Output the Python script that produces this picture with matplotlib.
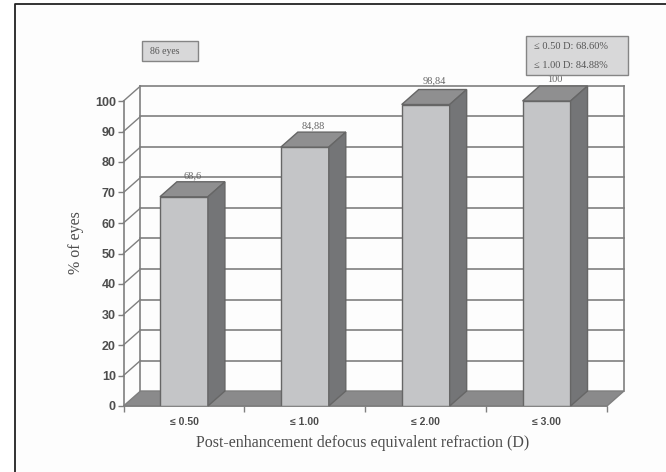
import matplotlib
matplotlib.use('Agg')
import matplotlib.pyplot as plt
from matplotlib.patches import Polygon, Rectangle

categories = ['≤ 0.50', '≤ 1.00', '≤ 2.00', '≤ 3.00']
values = [68.6, 84.88, 98.84, 100]
value_labels = ['68,6', '84,88', '98,84', '100']
y_ticks = list(range(0, 101, 10))

W, H = 666, 472
LEFT, RIGHT, BOTTOM, TOP = 123.5, 607, 406, 101
DX = 17 / 121      # depth of the 3d effect in category units
DY = 15 / 3.05     # depth in percent units
BAR_W = 0.397

LINE = '#7f7f7f'
EDGE = '#666666'
TEXT = '#4d4d4d'
FRONT = '#c4c5c7'
TOP_C = '#8f8f90'
SIDE = '#747577'
FLOOR = '#8a8a8b'

fig = plt.figure(figsize=(W / 100, H / 100), dpi=100, facecolor='white')

# page frame, only the top and left lines are in the crop
fig.add_artist(plt.Line2D([15 / W, 15 / W, 1], [0, 1 - 4 / H, 1 - 4 / H], color='#222222', lw=1.3))
fig.add_artist(Rectangle((15 / W, 0), 1 - 15 / W, 1 - 4 / H, transform=fig.transFigure,
                         facecolor='#fdfdfd', edgecolor='none', zorder=-5))

ax = fig.add_axes([LEFT / W, 1 - BOTTOM / H, (RIGHT - LEFT) / W, (BOTTOM - TOP) / H])
ax.patch.set_alpha(0)
n = len(categories)
ax.set_xlim(0, n)
ax.set_ylim(0, 100)

# floor
ax.add_patch(Polygon([(0, 0), (n, 0), (n + DX, DY), (DX, DY)], closed=True,
                     facecolor=FLOOR, edgecolor=LINE, lw=1, clip_on=False, zorder=1))

# walls and gridlines
for t in y_ticks:
    if t > 0:
        ax.plot([DX, n + DX], [t + DY, t + DY], color=LINE, lw=1.2, clip_on=False, zorder=1)
        ax.plot([0, DX], [t, t + DY], color=LINE, lw=1, clip_on=False, zorder=1)
ax.plot([DX, DX], [DY, 100 + DY], color=LINE, lw=1.2, clip_on=False, zorder=1)
ax.plot([n + DX, n + DX], [DY, 100 + DY], color=LINE, lw=1.2, clip_on=False, zorder=1)

# bars
centers = [i + 0.5 for i in range(n)]
label_gaps = [2.0, 2.0, 3.0, 2.0]
ax.bar(centers, values, width=BAR_W, color=FRONT, edgecolor=EDGE, linewidth=1, zorder=3)
for c, v, lab, gap in zip(centers, values, value_labels, label_gaps):
    x0, x1 = c - BAR_W / 2, c + BAR_W / 2
    ax.add_patch(Polygon([(x0, v), (x1, v), (x1 + DX, v + DY), (x0 + DX, v + DY)], closed=True,
                         facecolor=TOP_C, edgecolor=EDGE, lw=1, clip_on=False, zorder=3))
    ax.add_patch(Polygon([(x1, 0), (x1 + DX, DY), (x1 + DX, v + DY), (x1, v)], closed=True,
                         facecolor=SIDE, edgecolor=EDGE, lw=1, clip_on=False, zorder=3))
    ax.text(c + DX / 2, v + DY + gap, lab, ha='center', va='center', fontsize=7.5,
            family='Liberation Serif', color='#666666', zorder=4, clip_on=False)

# axes
for s in ['top', 'right']:
    ax.spines[s].set_visible(False)
for s in ['left', 'bottom']:
    ax.spines[s].set_color(LINE)
    ax.spines[s].set_linewidth(1.2)
    ax.spines[s].set_zorder(2)
ax.set_yticks(y_ticks)
ax.set_xticks(range(n + 1))
ax.set_xticklabels([])
ax.set_xticks(centers, minor=True)
ax.set_xticklabels(categories, minor=True, fontsize=7.5, fontweight='bold',
                   family='Liberation Sans', color=TEXT)
ax.tick_params(axis='x', which='minor', length=0, pad=8)
ax.tick_params(axis='x', which='major', length=4, color=LINE, width=1)
ax.tick_params(axis='y', length=4, color=LINE, width=1, pad=1.5)
for lab in ax.get_yticklabels():
    lab.set_fontsize(9)
    lab.set_fontweight('bold')
    lab.set_family('Liberation Sans')
    lab.set_color(TEXT)

ax.set_xlabel('Post-enhancement defocus equivalent refraction (D)', fontsize=11.5,
              family='Liberation Serif', color=TEXT)
ax.xaxis.set_label_coords((362.5 - LEFT) / (RIGHT - LEFT), -(443 - BOTTOM) / (BOTTOM - TOP))
ax.xaxis.label.set_va('center')
ax.set_ylabel('% of eyes', fontsize=11.5, family='Liberation Serif', color=TEXT)
ax.yaxis.set_label_coords((76 - LEFT) / (RIGHT - LEFT), (BOTTOM - 243) / (BOTTOM - TOP))
ax.yaxis.label.set_va('center')


def note_box(x0, y0, x1, y1):
    fig.add_artist(Rectangle((x0 / W, 1 - y1 / H), (x1 - x0) / W, (y1 - y0) / H,
                             transform=fig.transFigure, facecolor='#d8d8d9',
                             edgecolor='#858585', lw=1, zorder=5))


note_box(142, 41, 198, 61)
fig.text(150 / W, 1 - 51.5 / H, '86 eyes', fontsize=7, family='Liberation Serif',
         color='#555555', va='center', zorder=6)
note_box(526, 36, 628, 75)
fig.text(533.5 / W, 1 - 46.5 / H, '≤ 0.50 D: 68.60%', fontsize=7.5, family='Liberation Serif',
         color='#555555', va='center', zorder=6)
fig.text(533.5 / W, 1 - 65 / H, '≤ 1.00 D: 84.88%', fontsize=7.5, family='Liberation Serif',
         color='#555555', va='center', zorder=6)

fig.savefig('out.png', dpi=100)
